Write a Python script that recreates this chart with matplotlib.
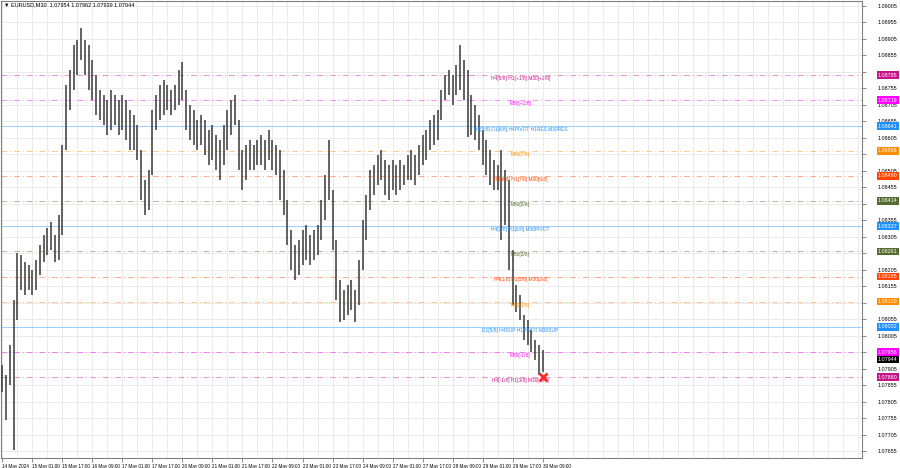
import numpy as np
import matplotlib
matplotlib.use("Agg")
import matplotlib.pyplot as plt
import matplotlib.transforms as mtransforms

plt.rcParams['font.family'] = ['Liberation Sans', 'DejaVu Sans']

# 2-hour bars (high / low)
highs = [1.07917, 1.07887, 1.07978, 1.08114, 1.08256, 1.08250, 1.08229, 1.08220, 1.08205, 1.08235,
         1.08281, 1.08311, 1.08332, 1.08350, 1.08311, 1.08372, 1.08584, 1.08765, 1.08811, 1.08887,
         1.08902, 1.08938, 1.08902, 1.08887, 1.08841, 1.08796, 1.08750, 1.08735, 1.08720, 1.08750,
         1.08735, 1.08720, 1.08735, 1.08720, 1.08690, 1.08675, 1.08644, 1.08569, 1.08478, 1.08508,
         1.08690, 1.08735, 1.08765, 1.08781, 1.08765, 1.08750, 1.08765, 1.08811, 1.08835, 1.08750,
         1.08705, 1.08690, 1.08659, 1.08675, 1.08659, 1.08629, 1.08644, 1.08614, 1.08599, 1.08644,
         1.08690, 1.08720, 1.08735, 1.08659, 1.08569, 1.08584, 1.08599, 1.08584, 1.08599, 1.08614,
         1.08599, 1.08629, 1.08599, 1.08584, 1.08569, 1.08508, 1.08417, 1.08326, 1.08281, 1.08296,
         1.08326, 1.08341, 1.08311, 1.08326, 1.08341, 1.08417, 1.08493, 1.08599, 1.08447, 1.08296,
         1.08175, 1.08144, 1.08159, 1.08175, 1.08144, 1.08235, 1.08356, 1.08432, 1.08508, 1.08523,
         1.08553, 1.08569, 1.08538, 1.08523, 1.08538, 1.08523, 1.08538, 1.08523, 1.08553, 1.08569,
         1.08553, 1.08584, 1.08614, 1.08629, 1.08659, 1.08675, 1.08690, 1.08750, 1.08796, 1.08811,
         1.08796, 1.08826, 1.08887, 1.08841, 1.08811, 1.08735, 1.08705, 1.08675, 1.08629, 1.08599,
         1.08569, 1.08538, 1.08523, 1.08569, 1.08508, 1.08478, 1.08265, 1.08159, 1.08129, 1.08069,
         1.08053, 1.08023, 1.07993, 1.07978, 1.07963]
lows = [1.07835, 1.07750, 1.07856, 1.07660, 1.08053, 1.08144, 1.08129, 1.08144, 1.08129, 1.08144,
        1.08190, 1.08229, 1.08250, 1.08265, 1.08229, 1.08235, 1.08311, 1.08569, 1.08690, 1.08750,
        1.08796, 1.08841, 1.08796, 1.08750, 1.08720, 1.08675, 1.08659, 1.08644, 1.08614, 1.08629,
        1.08644, 1.08614, 1.08629, 1.08599, 1.08569, 1.08569, 1.08538, 1.08417, 1.08372, 1.08387,
        1.08493, 1.08629, 1.08659, 1.08675, 1.08690, 1.08675, 1.08690, 1.08705, 1.08720, 1.08629,
        1.08599, 1.08584, 1.08569, 1.08584, 1.08553, 1.08523, 1.08538, 1.08508, 1.08478, 1.08523,
        1.08569, 1.08614, 1.08644, 1.08508, 1.08447, 1.08478, 1.08508, 1.08508, 1.08523, 1.08523,
        1.08508, 1.08538, 1.08508, 1.08493, 1.08417, 1.08372, 1.08281, 1.08205, 1.08175, 1.08190,
        1.08220, 1.08235, 1.08220, 1.08235, 1.08250, 1.08296, 1.08356, 1.08417, 1.08265, 1.08114,
        1.08047, 1.08053, 1.08069, 1.08084, 1.08047, 1.08099, 1.08205, 1.08296, 1.08387, 1.08432,
        1.08462, 1.08478, 1.08432, 1.08417, 1.08447, 1.08432, 1.08447, 1.08462, 1.08478, 1.08478,
        1.08462, 1.08493, 1.08523, 1.08538, 1.08569, 1.08584, 1.08599, 1.08659, 1.08720, 1.08735,
        1.08705, 1.08735, 1.08750, 1.08720, 1.08608, 1.08614, 1.08599, 1.08569, 1.08523, 1.08493,
        1.08462, 1.08447, 1.08447, 1.08296, 1.08341, 1.08205, 1.08099, 1.08078, 1.08053, 1.07993,
        1.07978, 1.07956, 1.07932, 1.07887, 1.07896]

date_labels = ["14 May 2024", "15 May 01:00", "15 May 17:00", "16 May 09:00", "17 May 01:00",
               "17 May 17:00", "20 May 09:00", "21 May 01:00", "21 May 17:00", "22 May 09:00",
               "23 May 01:00", "23 May 17:00", "24 May 09:00", "27 May 01:00", "27 May 17:00",
               "28 May 09:00", "29 May 01:00", "29 May 17:00", "30 May 09:00"]

# murrey levels: price, label, colour
level_prices = [1.08795, 1.08719, 1.08641, 1.08566, 1.08490, 1.08414, 1.08337,
                1.08261, 1.08185, 1.08109, 1.08032, 1.07956, 1.07880]
level_texts = ["H4[5/8] H1[+1/8] M30[+2/8]", "M30[+1/8]",
               "H1[5/8] D1[6/8] H4PIVOT H1RES M30RES", "M30[7/8]",
               "H4[6/8] H1[7/8] M30[6/8]", "M30[5/8]", "H4[2/8] H1[6/8] M30PIVOT",
               "M30[3/8]", "H4[1/8] H1[5/8] M30[2/8]", "M30[1/8]",
               "D1[5/8] H4SUP H1PIVOT M30SUP", "M30[-1/8]", "H4[-1/8] H1[3/8] M30[-2/8]"]
level_colors = ["#c8148c", "#ff00ff", "#1e90ff", "#ff8c00", "#ff4500", "#556b2f", "#1e90ff",
                "#556b2f", "#ff4500", "#ff8c00", "#1e90ff", "#ff00ff", "#c8148c"]

title = "\u25bc EURUSD,M30  1.07954 1.07962 1.07939 1.07944"
last_price = 1.07944

fig = plt.figure(figsize=(9, 4.68), dpi=100)
ax = fig.add_axes([0.0011, 0.0214, 0.9567, 0.9765])

x = np.arange(len(highs))
ax.set_xlim(-0.4, 229.2)
ax.set_ylim(1.07635, 1.09020)

# grid
yt = np.arange(1.07655, 1.09006, 0.0005)
ax.set_xticks(np.arange(0, 229, 4), minor=True)
ax.set_yticks(yt)
ax.grid(True, which='both', color='#e8e8e8', lw=0.6)
ax.set_axisbelow(True)

# levels
for p, t, c in zip(level_prices, level_texts, level_colors):
    ls = '-' if c == "#1e90ff" else (0, (6, 3, 1, 3))
    ax.axhline(p, color=c, lw=0.7, ls=ls, alpha=0.45, zorder=1)
    ax.annotate(t, (138.1, p), xytext=(0, -2.5), textcoords='offset points',
                ha='center', va='center', fontsize=3.5, color=c, zorder=4)

# bars
ax.vlines(x, lows, highs, color='#404040', lw=1.15, zorder=3)
ax.plot(x[-1], level_prices[-1], marker='x', color='#ff2a2a', ms=6, mew=2, zorder=5)

# axes look, tick labels hidden where a price tag sits
tags = level_prices + [last_price]
ylabels = [f"{v:.5f}" if min(abs(v - t) for t in tags) > 0.00013 else "" for v in yt]
ax.yaxis.tick_right()
ax.set_yticklabels(ylabels)
ax.set_xticks(x[::8])
ax.set_xticklabels(date_labels, ha='left')
ax.tick_params(axis='y', which='major', labelsize=3.9, length=3, width=0.6,
               color='#777777', pad=8)
ax.tick_params(axis='x', which='major', labelsize=3.3, length=3, width=0.6,
               color='#777777', pad=1.5)
ax.tick_params(axis='x', which='minor', length=0)
for s in ax.spines.values():
    s.set_color('#808080')
    s.set_linewidth(0.8)

# price tags on the right
trans = mtransforms.blended_transform_factory(ax.transAxes, ax.transData)
for p, c in zip(level_prices, level_colors):
    ax.text(1.0186, p, f"{p:.5f}", transform=trans, fontsize=3.9, color='white',
            ha='left', va='center', clip_on=False, zorder=6,
            bbox=dict(boxstyle='square,pad=0.25', fc=c, ec='none'))
ax.text(1.0186, last_price - 0.0001, f"{last_price:.5f}", transform=trans, fontsize=3.9,
        color='white', ha='left', va='center', clip_on=False, zorder=5,
        bbox=dict(boxstyle='square,pad=0.25', fc='black', ec='none'))

fig.text(0.004, 0.989, title, fontsize=4, ha='left', va='center')

fig.savefig("out.png", dpi=100, facecolor='white')
